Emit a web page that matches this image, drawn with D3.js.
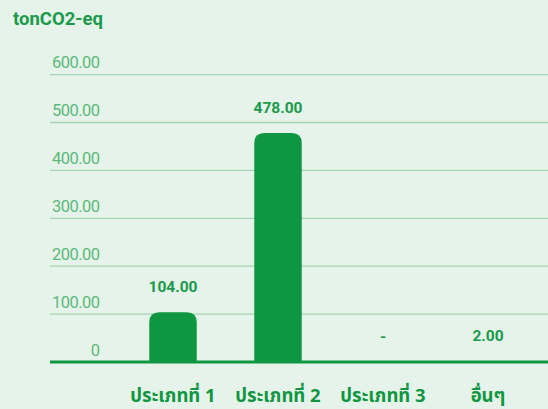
<!DOCTYPE html>
<html><head><meta charset="utf-8">
<script src="https://cdn.jsdelivr.net/npm/d3@7"></script>
<style>
html,body{margin:0;padding:0;background:#e6f3ea;}
svg{display:block;}
</style></head>
<body>
<svg id="chart" width="548" height="409"></svg>
<script>
const categories = ["ประเภทที่ 1", "ประเภทที่ 2", "ประเภทที่ 3", "อื่นๆ"];
const values = [104, 478, 0, 2];
const valueLabels = ["104.00", "478.00", "-", "2.00"];
const tickValues = [0, 100, 200, 300, 400, 500, 600];
const tickLabels = ["0", "100.00", "200.00", "300.00", "400.00", "500.00", "600.00"];
const unitLabel = "tonCO2-eq";

const svg = d3.select("#chart");
const W = 548, H = 409;
svg.append("rect").attr("width", W).attr("height", H).attr("fill", "#e6f3ea");

const y = d3.scaleLinear().domain([0, 600]).range([362, 74.6]);
const x = d3.scaleBand().domain(categories).range([120.5, 540.5]).paddingInner(0.548).paddingOuter(0.274);

const gridColor = "#a6d4b2";
const darkGreen = "#0f9640";
const textGreen = "#1a9a4a";
const tickGreen = "#5cb87a";

// gridlines
svg.append("g").selectAll("line").data(tickValues.filter(d => d > 0)).join("line")
  .attr("x1", 50).attr("x2", W)
  .attr("y1", d => y(d)).attr("y2", d => y(d))
  .attr("stroke", gridColor).attr("stroke-width", 1.3);

// tick labels
svg.append("g").selectAll("text").data(tickValues).join("text")
  .attr("x", 100).attr("y", d => y(d) - 6.5)
  .attr("text-anchor", "end")
  .attr("font-family", "Roboto, sans-serif").attr("font-weight", 400)
  .attr("font-size", 16.5).attr("fill", tickGreen)
  .attr("textLength", (d, i) => i === 0 ? null : 48)
  .text((d, i) => tickLabels[i]);

// bars with rounded top corners
const r = 10;
function barPath(x0, w, yTop, yBot) {
  const h = yBot - yTop;
  const rr = Math.min(r, h, w / 2);
  return `M${x0},${yBot} L${x0},${yTop + rr} Q${x0},${yTop} ${x0 + rr},${yTop} L${x0 + w - rr},${yTop} Q${x0 + w},${yTop} ${x0 + w},${yTop + rr} L${x0 + w},${yBot} Z`;
}
svg.append("g").selectAll("path").data(values).join("path")
  .attr("d", (d, i) => barPath(x(categories[i]), x.bandwidth(), y(d), y(0)))
  .attr("fill", darkGreen);

// baseline
svg.append("line").attr("x1", 50).attr("x2", W).attr("y1", y(0)).attr("y2", y(0))
  .attr("stroke", darkGreen).attr("stroke-width", 3);

// value labels
svg.append("g").selectAll("text").data(values).join("text")
  .attr("x", (d, i) => x(categories[i]) + x.bandwidth() / 2)
  .attr("y", d => Math.min(y(d), y(0)) - 20)
  .attr("text-anchor", "middle")
  .attr("font-family", "Roboto, sans-serif").attr("font-weight", 700)
  .attr("font-size", 15.5).attr("fill", textGreen)
  .text((d, i) => valueLabels[i]);

// category labels
svg.append("g").selectAll("text").data(categories).join("text")
  .attr("x", d => x(d) + x.bandwidth() / 2)
  .attr("y", 402)
  .attr("text-anchor", "middle")
  .attr("font-family", "'Noto Sans', 'Noto Sans Thai', sans-serif").attr("font-weight", 700)
  .attr("font-size", 18.5).attr("fill", darkGreen)
  .text(d => d);

// unit label
svg.append("text").attr("x", 13).attr("y", 25)
  .attr("font-family", "Roboto, sans-serif").attr("font-weight", 700)
  .attr("font-size", 18.5).attr("fill", textGreen)
  .text(unitLabel);
</script>
</body></html>
